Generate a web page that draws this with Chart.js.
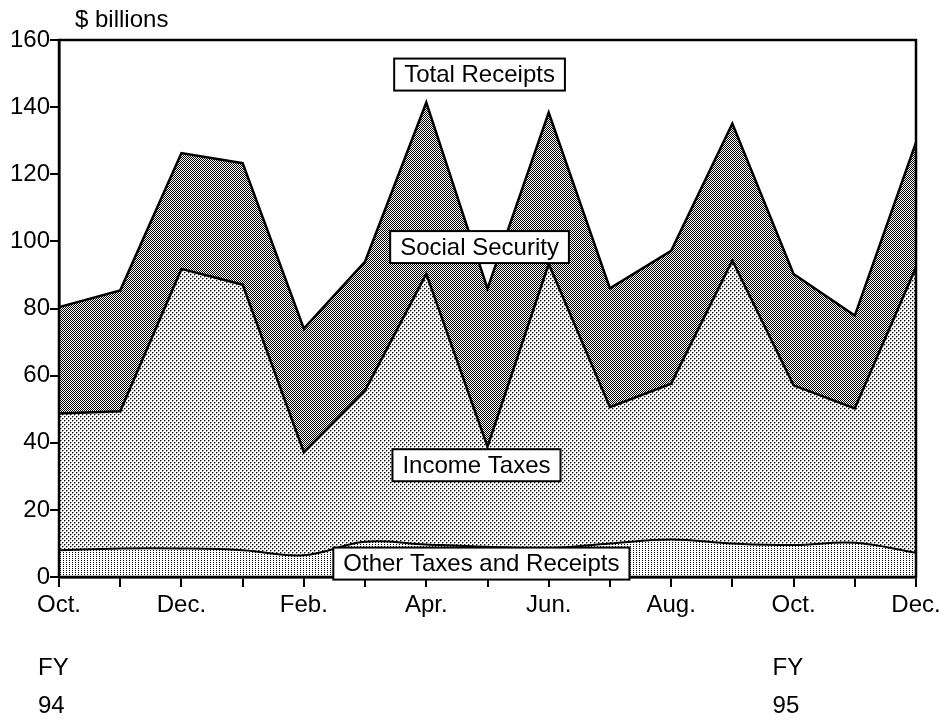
<!DOCTYPE html>
<html>
<head>
<meta charset="utf-8">
<script src="https://cdn.jsdelivr.net/npm/chart.js@4"></script>
<style>
  html, body { margin: 0; padding: 0; background: #fff; }
  #wrap { width: 946px; height: 721px; }
</style>
</head>
<body>
<div id="wrap"><canvas id="receiptsChart"></canvas></div>
<script>
// months, FY94 Oct through FY95 Dec
const months = ['Oct.', 'Nov.', 'Dec.', 'Jan.', 'Feb.', 'Mar.', 'Apr.', 'May', 'Jun.', 'Jul.', 'Aug.', 'Sep.', 'Oct.', 'Nov.', 'Dec.'];

// cumulative levels ($ billions)
const otherTop  = [8, 8.5, 8.5, 8, 6.5, 10.5, 9.7, 9, 8.6, 10, 11.2, 10, 9.5, 10.2, 7.2];
const incomeTop = [48.7, 49.4, 91.8, 87.1, 37.2, 55.6, 90.3, 38.8, 93.3, 50.6, 57.6, 94.3, 57.1, 50.2, 92.3];
const totalTop  = [80.4, 85.4, 126.3, 123.3, 74, 94, 141.4, 85.9, 138.4, 86, 97.2, 135.1, 90.3, 77.9, 129.5];

const yTicks = [0, 20, 40, 60, 80, 100, 120, 140, 160];

const seriesLabels = ['Other Taxes and Receipts', 'Income Taxes', 'Social Security', 'Total Receipts'];

const FONT = '24px "Liberation Sans", Arial, sans-serif';

// little halftone tiles: [x, y, colour]
function halftone(w, h, dots) {
    const c = document.createElement('canvas');
    c.width = w; c.height = h;
    const g = c.getContext('2d');
    g.fillStyle = '#fff';
    g.fillRect(0, 0, w, h);
    dots.forEach(([px, py, col]) => {
        g.fillStyle = col || '#000';
        g.fillRect(px, py, 1, 1);
    });
    return g.createPattern(c, 'repeat');
}

const otherFill  = halftone(3, 2, [[0, 0]]);
const incomeFill = halftone(4, 4, [[0, 0], [2, 2], [1, 0, '#999'], [3, 2, '#999'], [0, 1, '#999'], [2, 3, '#999']]);
const socialFill = halftone(2, 2, [[0, 0], [1, 1]]);

// boxed labels: [text, x index, y value]
const boxes = [
    [seriesLabels[3], 6.87, 149.7],
    [seriesLabels[2], 6.87, 98.3],
    [seriesLabels[1], 6.82, 33.3],
    [seriesLabels[0], 6.9, 4]
];

const overlay = {
    id: 'overlay',
    afterDatasetsDraw(chart) {
        const { ctx, chartArea: a, scales: { x, y } } = chart;
        ctx.save();
        ctx.strokeStyle = '#000';
        ctx.lineWidth = 2.5;
        ctx.strokeRect(a.left, a.top, a.right - a.left, a.bottom - a.top);

        ctx.font = FONT;
        ctx.textAlign = 'center';
        ctx.textBaseline = 'middle';
        boxes.forEach(([text, xi, yv]) => {
            const cx = x.getPixelForValue(xi);
            const cy = y.getPixelForValue(yv);
            const w = ctx.measureText(text).width + 20;
            const h = 32;
            ctx.fillStyle = '#fff';
            ctx.fillRect(cx - w / 2, cy - h / 2, w, h);
            ctx.lineWidth = 2;
            ctx.strokeRect(cx - w / 2, cy - h / 2, w, h);
            ctx.fillStyle = '#000';
            ctx.fillText(text, cx, cy + 1);
        });

        // unit and fiscal year notes
        ctx.textAlign = 'left';
        ctx.fillText('$ billions', a.left + 16, 20);
        [[0, 'FY', '94'], [12, 'FY', '95']].forEach(([i, a1, a2]) => {
            const px = x.getPixelForValue(i) - 21;
            ctx.fillText(a1, px, 668);
            ctx.fillText(a2, px, 706);
        });
        ctx.restore();
    }
};

const lineBase = {
    borderColor: '#000',
    pointRadius: 0,
    tension: 0
};

new Chart(document.getElementById('receiptsChart'), {
    type: 'line',
    data: {
        labels: months,
        datasets: [
            { ...lineBase, label: seriesLabels[0], data: otherTop, backgroundColor: otherFill, borderWidth: 2, tension: 0.4, fill: 'origin' },
            { ...lineBase, label: seriesLabels[1], data: incomeTop, backgroundColor: incomeFill, borderWidth: 2.5, fill: '-1' },
            { ...lineBase, label: seriesLabels[2], data: totalTop, backgroundColor: socialFill, borderWidth: 2.5, fill: '-1' }
        ]
    },
    options: {
        responsive: true,
        maintainAspectRatio: false,
        animation: false,
        events: [],
        layout: { padding: { top: 40, right: 30, left: 0, bottom: 0 } },
        plugins: {
            legend: { display: false },
            tooltip: { enabled: false }
        },
        scales: {
            x: {
                afterFit: s => { s.height = 144; },
                grid: { drawOnChartArea: false, drawTicks: true, tickLength: 10, color: '#000', lineWidth: 2 },
                border: { display: true, color: '#000', width: 2.5 },
                ticks: {
                    color: '#000',
                    font: { family: '"Liberation Sans", Arial, sans-serif', size: 24 },
                    padding: 4,
                    autoSkip: false,
                    maxRotation: 0,
                    callback: (val, i) => i % 2 === 0 ? months[i] : ''
                }
            },
            y: {
                min: 0,
                max: 160,
                afterFit: s => { s.width = 59; },
                afterBuildTicks: s => { s.ticks = yTicks.map(v => ({ value: v })); },
                grid: { drawOnChartArea: false, drawTicks: true, tickLength: 9, color: '#000', lineWidth: 2 },
                border: { display: true, color: '#000', width: 2.5 },
                ticks: {
                    color: '#000',
                    font: { family: '"Liberation Sans", Arial, sans-serif', size: 24 },
                    padding: 0
                }
            }
        }
    },
    plugins: [overlay]
});
</script>
</body>
</html>
